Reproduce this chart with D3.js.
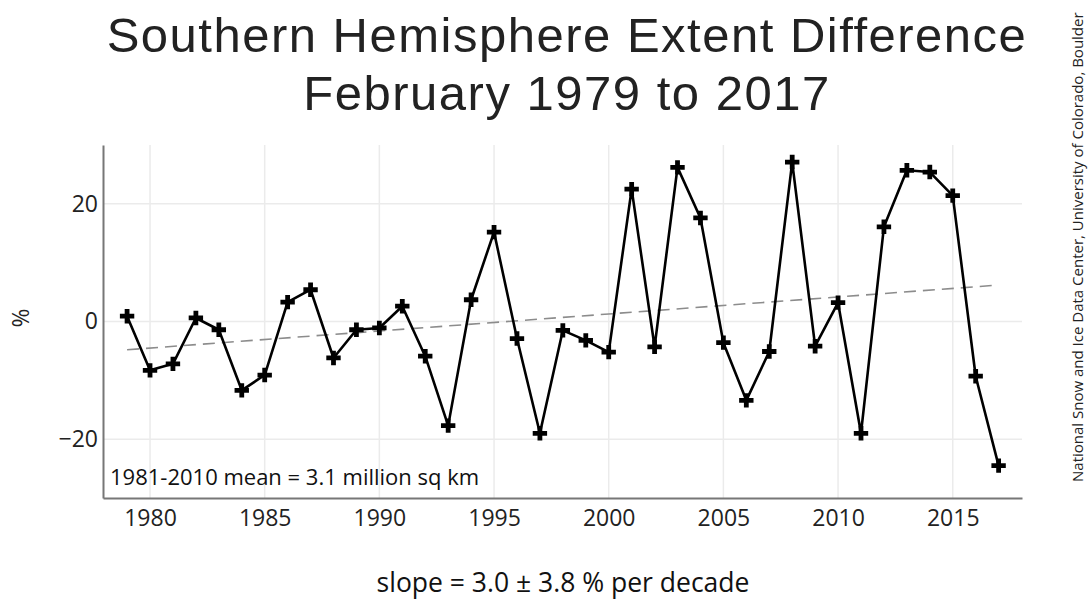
<!DOCTYPE html>
<html>
<head>
<meta charset="utf-8">
<script src="https://cdn.jsdelivr.net/npm/d3@7"></script>
<style>
  body { margin: 0; background: #fff; }
  svg { display: block; }
</style>
</head>
<body>
<div id="chart"></div>
<script>
// chart data
const years = d3.range(1979, 2018);
const extentDiff = [
    0.9, -8.3, -7.2, 0.6, -1.4, -11.7, -9.1, 3.3, 5.4, -6.2,
    -1.4, -1.1, 2.6, -5.9, -17.7, 3.7, 15.2, -2.9, -19.0, -1.5,
    -3.2, -5.2, 22.5, -4.3, 26.2, 17.6, -3.6, -13.4, -5.1, 27.1,
    -4.2, 3.2, -19.0, 16.1, 25.7, 25.4, 21.4, -9.3, -24.5
];
const trendYears = [1979, 2017];
const trendValues = [-4.8, 6.2];
const xTicks = [1980, 1985, 1990, 1995, 2000, 2005, 2010, 2015];
const yTicks = [-20, 0, 20];
const titleLines = ["Southern Hemisphere Extent Difference", "February 1979 to 2017"];

// constants
const width = 1088;
const height = 602;
const margin = {top: 145, right: 66, bottom: 104, left: 103};
const sansFont = "'Open Sans', 'Noto Sans', sans-serif";

const svg = d3.select("#chart")
    .append("svg")
    .attr("width", width)
    .attr("height", height);

const x = d3.scaleLinear()
    .domain([1977.95, 2018.02])
    .range([margin.left, width - margin.right]);
const y = d3.scaleLinear()
    .domain([-30, 30])
    .range([height - margin.bottom, margin.top]);

// grid lines
svg.append("g")
    .selectAll("line.vgrid")
    .data(xTicks)
    .enter()
    .append("line")
    .attr("x1", d => x(d))
    .attr("x2", d => x(d))
    .attr("y1", margin.top)
    .attr("y2", height - margin.bottom)
    .style("stroke", "#ebebeb")
    .style("stroke-width", 1.5);

svg.append("g")
    .selectAll("line.hgrid")
    .data(yTicks)
    .enter()
    .append("line")
    .attr("x1", margin.left)
    .attr("x2", width - margin.right)
    .attr("y1", d => y(d))
    .attr("y2", d => y(d))
    .style("stroke", "#ebebeb")
    .style("stroke-width", 1.5);

// axes
const xAxis = d3.axisBottom(x)
    .tickValues(xTicks)
    .tickFormat(d3.format("d"))
    .tickSize(0)
    .tickPadding(12);
const yAxis = d3.axisLeft(y)
    .tickValues(yTicks)
    .tickFormat(d => d < 0 ? "\u2212" + Math.abs(d) : d)
    .tickSize(0)
    .tickPadding(5);

const gx = svg.append("g")
    .attr("transform", "translate(0," + (height - margin.bottom) + ")")
    .call(xAxis);
const gy = svg.append("g")
    .attr("transform", "translate(" + margin.left + ",0)")
    .call(yAxis);

[gx, gy].forEach(g => {
    g.select(".domain").style("stroke", "#777").style("stroke-width", 2);
    g.selectAll("text")
        .style("font-family", sansFont)
        .style("font-size", "23px")
        .style("fill", "#222");
});

// trend line
svg.append("line")
    .attr("x1", x(trendYears[0]))
    .attr("x2", x(trendYears[1]))
    .attr("y1", y(trendValues[0]))
    .attr("y2", y(trendValues[1]))
    .style("stroke", "#8c8c8c")
    .style("stroke-width", 1.6)
    .style("stroke-dasharray", "12,7");

// data line
const line = d3.line()
    .x((d, i) => x(years[i]))
    .y(d => y(d));

svg.append("path")
    .datum(extentDiff)
    .attr("d", line)
    .style("fill", "none")
    .style("stroke", "#000")
    .style("stroke-width", 2.6)
    .style("stroke-linejoin", "round");

// plus markers
const plus = d3.symbol().type(d3.symbolCross).size(115);
svg.append("g")
    .selectAll("path")
    .data(extentDiff)
    .enter()
    .append("path")
    .attr("d", plus)
    .attr("transform", (d, i) => "translate(" + x(years[i]) + "," + y(d) + ")")
    .style("fill", "#000");

// title
svg.append("g")
    .selectAll("text")
    .data(titleLines)
    .enter()
    .append("text")
    .attr("x", 567)
    .attr("y", (d, i) => 52 + i * 58)
    .attr("text-anchor", "middle")
    .style("font-family", "'Liberation Sans', Arial, sans-serif")
    .style("font-size", "49px")
    .style("letter-spacing", "1.5px")
    .style("fill", "#222")
    .text(d => d);

// labels
svg.append("text")
    .attr("transform", "translate(29,318) rotate(-90)")
    .attr("text-anchor", "middle")
    .style("font-family", sansFont)
    .style("font-size", "23px")
    .style("fill", "#222")
    .text("%");

svg.append("text")
    .attr("x", 110)
    .attr("y", 485)
    .style("font-family", sansFont)
    .style("font-size", "22px")
    .style("fill", "#111")
    .text("1981-2010 mean = 3.1 million sq km");

svg.append("text")
    .attr("x", 563)
    .attr("y", 592)
    .attr("text-anchor", "middle")
    .style("font-family", sansFont)
    .style("font-size", "26.5px")
    .style("fill", "#111")
    .text("slope = 3.0 \u00b1 3.8 % per decade");

svg.append("text")
    .attr("transform", "translate(1083,482) rotate(-90)")
    .style("font-family", sansFont)
    .style("font-size", "15px")
    .style("fill", "#222")
    .text("National Snow and Ice Data Center, University of Colorado, Boulder");
</script>
</body>
</html>
